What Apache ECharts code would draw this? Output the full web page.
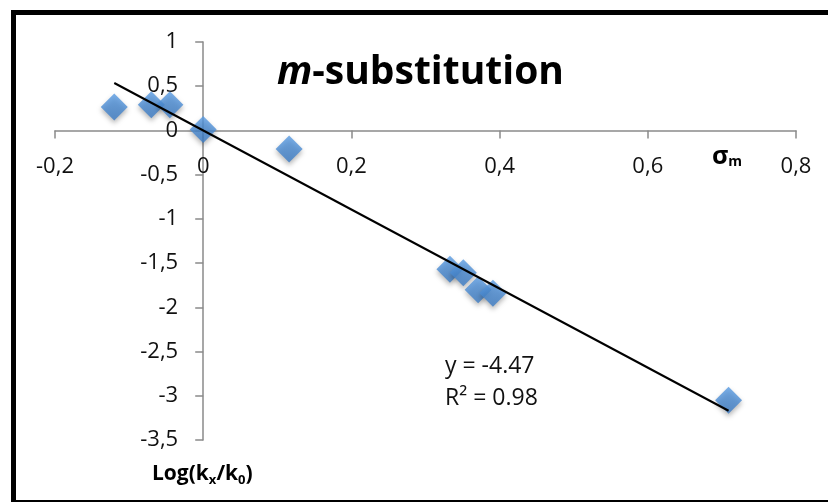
<!DOCTYPE html>
<html>
<head>
<meta charset="utf-8">
<script src="https://cdn.jsdelivr.net/npm/echarts@6/dist/echarts.min.js"></script>
<style>
  html, body { margin: 0; padding: 0; background: #fff; }
  #chart { width: 828px; height: 502px; }
</style>
</head>
<body>
<div id="chart"></div>
<script>
// Hammett plot, meta substituents: sigma_m vs log(kx/k0)
const sigmaM = [-0.12, -0.07, -0.045, 0.0, 0.116, 0.333, 0.351, 0.371, 0.391, 0.709];
const logRatio = [0.265, 0.29, 0.29, 0.01, -0.21, -1.57, -1.61, -1.80, -1.84, -3.05];

// Linear fit through the origin
const trendSlope = -4.47;
const trendR2 = 0.98;

// Axis ranges and tick spacing
const xTicks = { min: -0.2, max: 0.8, interval: 0.2 };
const yTicks = { min: -3.5, max: 1, interval: 0.5 };

const points = sigmaM.map((x, i) => [x, logRatio[i]]);
const xLo = Math.min(...sigmaM), xHi = Math.max(...sigmaM);
const trendLine = [[xLo, trendSlope * xLo], [xHi, trendSlope * xHi]];

const fmt = v => String(+v.toFixed(2)).replace('.', ',');
const font = '"Open Sans", "Noto Sans", sans-serif';
const axisGray = '#8a8a8a';

const axisCommon = {
  type: 'value',
  axisLine: { onZero: false, lineStyle: { color: axisGray, width: 1.5 } },
  axisTick: { show: true, inside: false, length: 8, lineStyle: { color: axisGray, width: 1.5 } },
  axisLabel: { formatter: fmt, margin: 25, color: '#111', fontFamily: font, fontSize: 22, hideOverlap: false },
  splitLine: { show: false }
};

const chart = echarts.init(document.getElementById('chart'), null, { renderer: 'canvas' });
chart.setOption({
  backgroundColor: '#fff',
  animation: false,
  grid: { left: 55, right: 32, top: 42, bottom: 62, containLabel: false, outerBoundsMode: 'none' },
  xAxis: Object.assign({}, axisCommon, {
    position: 'bottom',
    min: xTicks.min, max: xTicks.max, interval: xTicks.interval
  }),
  yAxis: Object.assign({}, axisCommon, {
    position: 'left',
    min: yTicks.min, max: yTicks.max, interval: yTicks.interval
  }),
  series: [
    {
      type: 'scatter',
      data: points,
      symbol: 'diamond',
      symbolSize: [27, 27],
      itemStyle: {
        color: new echarts.graphic.LinearGradient(0, 0, 0, 1, [
          { offset: 0, color: '#5a9ce3' },
          { offset: 1, color: '#3b7bc4' }
        ]),
        shadowBlur: 5,
        shadowOffsetY: 3,
        shadowColor: 'rgba(0,0,0,0.35)'
      },
      z: 2
    },
    {
      type: 'line',
      data: trendLine,
      showSymbol: false,
      symbol: 'none',
      lineStyle: { color: '#000', width: 2 },
      z: 3
    }
  ],
  graphic: [
    {
      type: 'rect',
      shape: { x: 13.5, y: 12.5, width: 900, height: 490 },
      style: { fill: null, stroke: '#000', lineWidth: 5 },
      silent: true, z: 10
    },
    {
      type: 'text',
      left: 277, top: 53,
      style: {
        text: '{i|m}{b|-substitution}',
        rich: {
          i: { fontFamily: font, fontSize: 39, fontWeight: 'bold', fontStyle: 'italic', fill: '#000' },
          b: { fontFamily: font, fontSize: 39, fontWeight: 'bold', fill: '#000' }
        }
      }
    },
    {
      type: 'text',
      left: 712, top: 144,
      style: {
        text: '{s|σ}{m|m}',
        rich: {
          s: { fontFamily: font, fontSize: 25, fontWeight: 'bold', fill: '#000' },
          m: { fontFamily: font, fontSize: 14, fontWeight: 'bold', fill: '#000', padding: [12, 0, 0, 0] }
        }
      }
    },
    {
      type: 'text',
      left: 152, top: 464,
      style: {
        text: '{t|Log(k}{s|x}{t|/k}{s|0}{t|)}',
        rich: {
          t: { fontFamily: font, fontSize: 21, fontWeight: 'bold', fill: '#000' },
          s: { fontFamily: font, fontSize: 13, fontWeight: 'bold', fill: '#000', padding: [11, 0, 0, 0] }
        }
      }
    },
    {
      type: 'text',
      left: 445, top: 350,
      style: {
        text: 'y = ' + trendSlope.toFixed(2) + '\nR² = ' + trendR2.toFixed(2),
        fontFamily: font, fontSize: 23, lineHeight: 32, fill: '#111'
      }
    }
  ]
});

// Shift both axes so they cross at the origin (labels travel with the lines)
const origin = chart.convertToPixel({ gridIndex: 0 }, [0, 0]);
const corner = chart.convertToPixel({ gridIndex: 0 }, [xTicks.min, yTicks.min]);
chart.setOption({
  xAxis: { offset: -(corner[1] - origin[1]) },
  yAxis: { offset: -(origin[0] - corner[0]) }
});
</script>
</body>
</html>
